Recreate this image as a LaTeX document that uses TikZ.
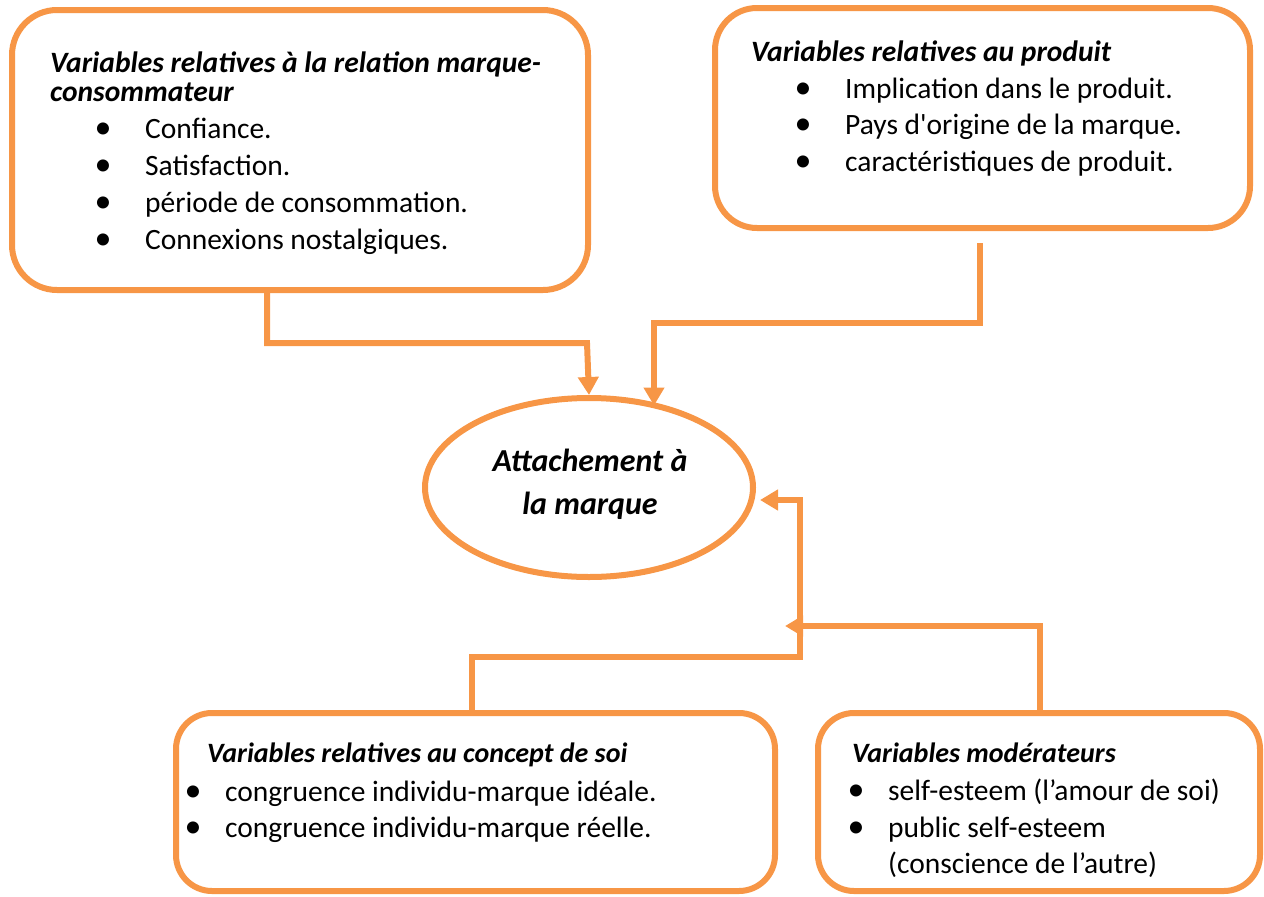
\documentclass[tikz,border=0pt]{standalone}
\usepackage{fontspec}
\setmainfont{Carlito}
\newfontfamily\rawcar{Carlito}
\usetikzlibrary{arrows.meta,shapes.geometric,calc}
\definecolor{org}{HTML}{F79646}
\tikzset{
  box/.style={draw=org, line width=6pt, fill=white},
  conn/.style={draw=org, line width=6pt, -{Triangle[width=20pt,length=18pt]}},
  t/.style={anchor=base west, inner sep=0pt, font=\fontsize{29.5}{36}\selectfont},
  h/.style={anchor=base west, inner sep=0pt, font=\fontsize{29.5}{36}\selectfont\bfseries\itshape},
  hs/.style={anchor=base west, inner sep=0pt, font=\fontsize{28}{34}\selectfont\bfseries\itshape},
  bul/.style={anchor=base, inner sep=0pt, font=\fontsize{34}{34}\selectfont},
  et/.style={anchor=base, inner sep=0pt, font=\fontsize{32}{38}\selectfont\bfseries\itshape}
}
\begin{document}
\begin{tikzpicture}[x=1pt,y=-1pt]
\useasboundingbox (0,0) rectangle (1264,897);
% boxes
\node[box, minimum width=576pt, minimum height=280pt, rounded corners=45pt] (b1) at (300,150) {};
\node[box, minimum width=535pt, minimum height=220pt, rounded corners=42pt] (b2) at (982.5,118) {};
\node[box, minimum width=599pt, minimum height=178pt, rounded corners=36pt] (b3) at (475.5,802) {};
\node[box, minimum width=442pt, minimum height=178pt, rounded corners=36pt] (b4) at (1039,802) {};
\node[ellipse, draw=org, line width=6pt, minimum width=328pt, minimum height=179pt, inner sep=0pt] (ell) at (589,487.5) {};
% ellipse text
\node[et] (e1) at (590,471) {Attachement à};
\node[et] (e2) at (590,514) {la marque};
% box 1 text
\node[h] (b1t1) at (50,72) {Variables relatives à la relation marque-};
\node[h] (b1t2) at (50,101) {consommateur};
\node[bul] (b1p1) at (103,138) {•};
\node[t] (b1l1) at (145,138) {Confiance.};
\node[bul] (b1p2) at (103,175) {•};
\node[t] (b1l2) at (145,175) {Satisfaction.};
\node[bul] (b1p3) at (103,212) {•};
\node[t] (b1l3) at (145,212) {période de consommation.};
\node[bul] (b1p4) at (103,249) {•};
\node[t] (b1l4) at (145,249) {Connexions nostalgiques.};
% box 2 text
\node[h] (b2t1) at (751,61) {Variables relatives au produit};
\node[bul] (b2p1) at (803,98) {•};
\node[t] (b2l1) at (845,98) {Implication dans le produit.};
\node[bul] (b2p2) at (803,134) {•};
\node[t] (b2l2) at (845,134) {Pays {\rawcar d'origine} de la marque.};
\node[bul] (b2p3) at (803,171) {•};
\node[t] (b2l3) at (845,171) {caractéristiques de produit.};
% box 3 text
\node[hs] (b3t1) at (207,762) {Variables relatives au concept de soi};
\node[bul] (b3p1) at (193,801) {•};
\node[t] (b3l1) at (225,801) {congruence individu-marque idéale.};
\node[bul] (b3p2) at (193,837) {•};
\node[t] (b3l2) at (225,837) {congruence individu-marque réelle.};
% box 4 text
\node[hs] (b4t1) at (852,762) {Variables modérateurs};
\node[bul] (b4p1) at (856,800) {•};
\node[t] (b4l1) at (888,800) {self-esteem (l’amour de soi)};
\node[bul] (b4p2) at (856,837) {•};
\node[t] (b4l2) at (888,837) {public self-esteem};
\node[t] (b4l3) at (888,873) {(conscience de l’autre)};
% connectors
\coordinate (j3) at (800,500);
\draw[conn] ($(b1.south west)+(258,0)$) |- (587,343) -- (ell.north);
\draw[conn] ($(b2.south west)+(268,12)$) |- (654,323) -- ($(ell.center)+(65,-82)$);
\draw[conn] ($(b3.north west)+(299,0)$) |- (800,657) -- (j3) -- ($(ell.east)+(4,12.5)$);
\draw[conn] ($(b4.north west)+(225,0)$) |- (785,626);
\end{tikzpicture}
\end{document}
